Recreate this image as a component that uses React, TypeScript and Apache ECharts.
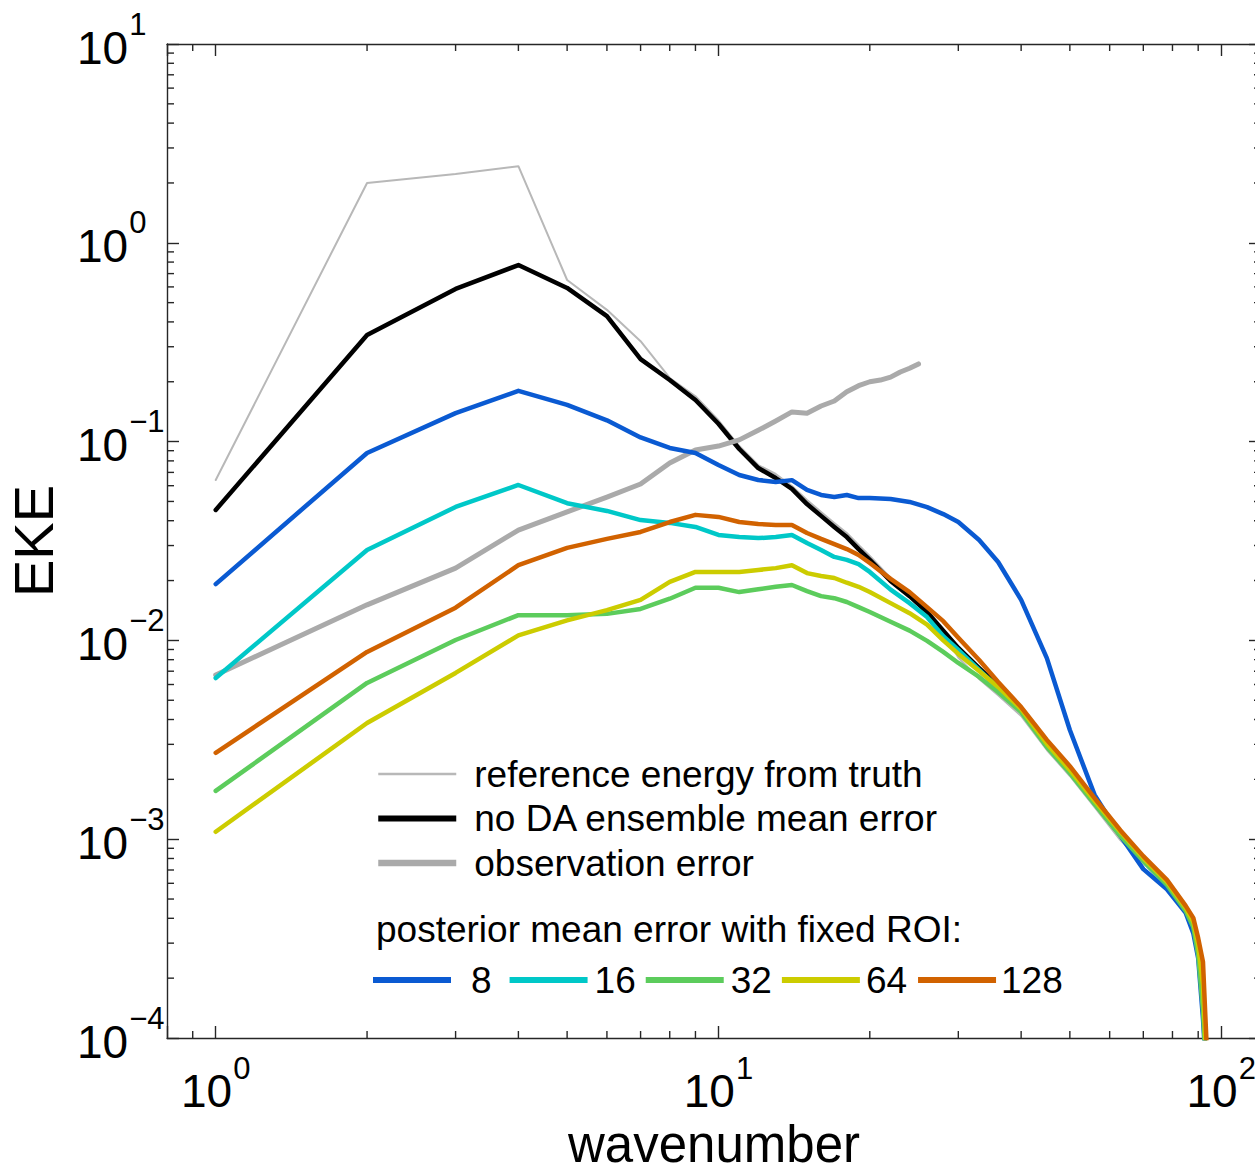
import React, { useEffect, useRef } from 'react';
import * as echarts from 'echarts';

const FONT = '"Liberation Sans", Arial, Helvetica, sans-serif';
const AXIS_COLOR = '#262626';

const X_MIN = 0.8;
const X_MAX = 120;
const Y_MIN = 1e-4;
const Y_MAX = 10;

// Wavenumbers shared by the spectra
const wavenumbers = [
  1, 2, 3, 4, 5, 6, 7, 8, 9, 10, 11, 12, 13, 14, 15, 16, 17, 18, 19, 20,
  22, 24, 26, 28, 30, 33, 36, 40, 45, 50, 56, 63, 70, 78, 85, 88, 90, 92, 94,
];
const obsWavenumbers = [
  1, 2, 3, 4, 5, 6, 7, 8, 9, 10, 11, 12, 13, 14, 15, 16, 17, 18, 19, 20, 21, 22, 23, 24, 25,
];

const referenceEnergy = [
  0.0641, 2.0, 2.22, 2.43, 0.65, 0.46, 0.32, 0.209, 0.169, 0.128,
  0.095, 0.0762, 0.0687, 0.0598, 0.0508, 0.0443, 0.039, 0.0347, 0.0302, 0.0266,
  0.0206, 0.0171, 0.0142, 0.011, 0.0082, 0.0064, 0.0053, 0.00417, 0.00281, 0.00208,
  0.00145, 0.00099, 0.000759, 0.000575, 0.000426, 0.000353, 0.000256, 0.000138, 0.00005,
];
const noDaError = [
  0.0453, 0.344, 0.586, 0.773, 0.593, 0.428, 0.26, 0.204, 0.162, 0.123,
  0.0918, 0.0736, 0.0656, 0.0578, 0.0485, 0.0423, 0.0372, 0.0331, 0.0288, 0.0254,
  0.0199, 0.0167, 0.0139, 0.0112, 0.00917, 0.00726, 0.0059, 0.00447, 0.00294, 0.00218,
  0.00152, 0.00105, 0.000785, 0.000596, 0.000441, 0.00037, 0.000277, 0.000155, 0.00005,
];
const observationError = [
  0.0067, 0.0151, 0.0231, 0.0359, 0.0443, 0.0526, 0.0612, 0.078, 0.0907, 0.095,
  0.102, 0.114, 0.127, 0.141, 0.139, 0.151, 0.16, 0.178, 0.191, 0.2,
  0.204, 0.211, 0.224, 0.234, 0.246,
];
const roi8 = [
  0.0192, 0.0877, 0.139, 0.18, 0.153, 0.128, 0.105, 0.0929, 0.0877, 0.0762,
  0.0679, 0.0641, 0.0627, 0.064, 0.0571, 0.0539, 0.0527, 0.0539, 0.052, 0.052,
  0.0514, 0.0497, 0.0468, 0.0432, 0.0394, 0.032, 0.0248, 0.016, 0.00815, 0.00354,
  0.00167, 0.00104, 0.000707, 0.00056, 0.000426, 0.000337, 0.000252, 0.000125, 0.00005,
];
const roi16 = [
  0.00647, 0.0285, 0.0469, 0.0605, 0.049, 0.0448, 0.0403, 0.039, 0.0372, 0.0339,
  0.0331, 0.0327, 0.0331, 0.0339, 0.0309, 0.0285, 0.0263, 0.0254, 0.0242, 0.0221,
  0.018, 0.0154, 0.0131, 0.0105, 0.00895, 0.0071, 0.00577, 0.00442, 0.00298, 0.0022,
  0.00154, 0.00106, 0.000794, 0.000603, 0.000446, 0.000374, 0.000277, 0.000155, 0.00005,
];
const roi32 = [
  0.00175, 0.00611, 0.01005, 0.0134, 0.0134, 0.0136, 0.0144, 0.0162, 0.0184, 0.0184,
  0.0175, 0.0181, 0.0186, 0.019, 0.0177, 0.0167, 0.0163, 0.0156, 0.0147, 0.0139,
  0.0124, 0.0112, 0.00994, 0.00875, 0.0077, 0.00655, 0.0055, 0.00436, 0.00291, 0.00215,
  0.0015, 0.00104, 0.000776, 0.000589, 0.000436, 0.000361, 0.000262, 0.000138, 0.00005,
];
const roi64 = [
  0.00109, 0.00384, 0.00686, 0.0106, 0.0126, 0.0142, 0.016, 0.0197, 0.0221, 0.0221,
  0.0221, 0.0226, 0.0231, 0.0239, 0.0218, 0.0211, 0.0206, 0.0195, 0.0186, 0.0175,
  0.0154, 0.0137, 0.012, 0.01, 0.00855, 0.00702, 0.00583, 0.00452, 0.00302, 0.00223,
  0.00156, 0.00109, 0.000803, 0.00061, 0.000451, 0.000384, 0.000294, 0.000185, 0.00005,
];
const roi128 = [
  0.00272, 0.00875, 0.0146, 0.0239, 0.0292, 0.0324, 0.0351, 0.0394, 0.0428, 0.0418,
  0.0394, 0.0385, 0.0381, 0.0381, 0.0347, 0.0324, 0.0305, 0.0288, 0.0269, 0.0245,
  0.0204, 0.0175, 0.0147, 0.0125, 0.0103, 0.00797, 0.00618, 0.00462, 0.00316, 0.00233,
  0.00161, 0.00111, 0.000822, 0.000624, 0.000462, 0.000402, 0.000318, 0.000241, 0.00007,
];

// Log-axis minor tick positions (2..9 within each decade)
const minorSteps = [2, 3, 4, 5, 6, 7, 8, 9];
const xMinorTicks = [0.9, ...minorSteps, ...minorSteps.map((m) => m * 10)];
const yDecades = [1e-4, 1e-3, 1e-2, 1e-1, 1];
const yMinorTicks = yDecades.flatMap((d) => minorSteps.map((m) => m * d));

const ROI_LABELS = ['8', '16', '32', '64', '128'];
const ROI_COLORS = ['#0a5ad2', '#00c8c8', '#5ccc5c', '#cccc00', '#d16200'];
const ROI_VALUES = [roi8, roi16, roi32, roi64, roi128];

const powerLabel = (v: number) => {
  const lg = Math.log10(v);
  const e = Math.round(lg);
  if (Math.abs(lg - e) > 1e-6) return '';
  const s = e < 0 ? '\u2212' + String(-e) : String(e);
  return `{b|10}{s|${s}}`;
};

// Superscript is lifted by bottom padding on its token (both tokens are middle-aligned)
const richFor = (basePadTop: number, supLift: number) => ({
  b: { fontSize: 46, lineHeight: 46, fontFamily: FONT, color: '#000', padding: [basePadTop, 0, 0, 0] },
  s: { fontSize: 31, lineHeight: 31, fontFamily: FONT, color: '#000', padding: [0, 0, supLift, 1] },
});

const axisLineStyle = { color: AXIS_COLOR, width: 1.4 };

const lineSeries = (name: string, xs: number[], ys: number[], color: string, width: number) => ({
  name,
  type: 'line',
  data: xs.map((x, i) => [x, ys[i]]),
  symbol: 'none',
  showSymbol: false,
  silent: true,
  clip: true,
  lineStyle: { color, width, join: 'round', cap: 'round' },
  itemStyle: { color },
  emphasis: { disabled: true },
});

const tickLine = (x1: number, y1: number, x2: number, y2: number) => ({
  type: 'line',
  shape: { x1, y1, x2, y2 },
  style: { stroke: AXIS_COLOR, lineWidth: 1.4 },
});

function buildOption() {
  const xAxisBase = {
    type: 'log',
    logBase: 10,
    min: X_MIN,
    max: X_MAX,
    axisLine: { show: true, lineStyle: axisLineStyle },
    axisTick: { show: true, inside: true, length: 12, lineStyle: axisLineStyle },
    splitLine: { show: false },
    minorTick: { show: false },
  };
  const yAxisBase = {
    type: 'log',
    logBase: 10,
    min: Y_MIN,
    max: Y_MAX,
    axisLine: { show: true, lineStyle: axisLineStyle },
    axisTick: { show: true, inside: true, length: 12, lineStyle: axisLineStyle },
    splitLine: { show: false },
    minorTick: { show: false },
  };

  const legendText = { fontSize: 37, fontFamily: FONT, color: '#000', lineHeight: 44 };
  const roiTextPad = [
    [0, 8, 0, 15],
    [0, 0, 0, 2],
    [0, 0, 0, 2],
    [0, 1, 0, 1],
    [0, 0, 0, 0],
  ];

  return {
    animation: false,
    backgroundColor: '#ffffff',
    textStyle: { fontFamily: FONT },
    grid: { left: 167, top: 44, width: 1094, height: 994, show: false, outerBoundsMode: 'none', containLabel: false },
    xAxis: [
      {
        ...xAxisBase,
        position: 'bottom',
        axisLabel: { formatter: powerLabel, margin: 30, rich: richFor(0, 46) },
        name: 'wavenumber',
        nameLocation: 'middle',
        nameGap: 85,
        nameMoveOverlap: false,
        nameTextStyle: { fontSize: 51, lineHeight: 42, fontFamily: FONT, color: '#000' },
      },
      { ...xAxisBase, position: 'top', axisLabel: { show: false } },
    ],
    yAxis: [
      {
        ...yAxisBase,
        position: 'left',
        axisLabel: { formatter: powerLabel, margin: 90, align: 'left', rich: richFor(7, 40) },
        name: 'EKE',
        nameLocation: 'middle',
        nameRotate: 90,
        nameGap: 106,
        nameMoveOverlap: false,
        nameTextStyle: { fontSize: 56, fontFamily: FONT, color: '#000' },
      },
      { ...yAxisBase, position: 'right', axisLabel: { show: false } },
    ],
    legend: [
      {
        orient: 'vertical',
        left: 375,
        top: 752,
        padding: 0,
        itemGap: 0.5,
        itemWidth: 78,
        itemHeight: 14,
        selectedMode: false,
        itemStyle: { opacity: 0 },
        textStyle: { ...legendText, padding: [0, 0, 0, 13] },
        data: [
          { name: 'reference energy from truth', lineStyle: { width: 2.5, cap: 'butt' } },
          { name: 'no DA ensemble mean error', lineStyle: { width: 6, cap: 'butt' } },
          { name: 'observation error', lineStyle: { width: 6.5, cap: 'butt' } },
        ],
      },
      {
        orient: 'horizontal',
        left: 370,
        top: 958,
        padding: 0,
        itemGap: 7,
        itemWidth: 78,
        itemHeight: 14,
        selectedMode: false,
        itemStyle: { opacity: 0 },
        textStyle: legendText,
        data: ROI_LABELS.map((name, i) => ({
          name,
          lineStyle: { width: 6, cap: 'butt' },
          textStyle: { padding: roiTextPad[i] },
        })),
      },
    ],
    graphic: [
      {
        type: 'text',
        left: 376,
        top: 911,
        silent: true,
        style: {
          text: 'posterior mean error with fixed ROI:',
          fontSize: 37,
          fontFamily: FONT,
          fill: '#000',
        },
      },
    ],
    series: [
      lineSeries('reference energy from truth', wavenumbers, referenceEnergy, '#b8b8b8', 2),
      lineSeries('no DA ensemble mean error', wavenumbers, noDaError, '#000000', 4.5),
      lineSeries('observation error', obsWavenumbers, observationError, '#aaaaaa', 5),
      ...ROI_LABELS.map((name, i) => lineSeries(name, wavenumbers, ROI_VALUES[i], ROI_COLORS[i], 4.5)),
      {
        type: 'custom',
        silent: true,
        clip: false,
        z: 5,
        encode: { x: 0, y: 1 },
        data: xMinorTicks.map((v) => [v, Y_MIN]),
        renderItem: (_params: any, api: any) => {
          const v = api.value(0);
          const b = api.coord([v, Y_MIN]);
          const t = api.coord([v, Y_MAX]);
          return {
            type: 'group',
            children: [tickLine(b[0], b[1], b[0], b[1] - 7), tickLine(t[0], t[1], t[0], t[1] + 7)],
          };
        },
      },
      {
        type: 'custom',
        silent: true,
        clip: false,
        z: 5,
        encode: { x: 0, y: 1 },
        data: yMinorTicks.map((v) => [X_MIN, v]),
        renderItem: (_params: any, api: any) => {
          const v = api.value(1);
          const l = api.coord([X_MIN, v]);
          const r = api.coord([X_MAX, v]);
          return {
            type: 'group',
            children: [tickLine(l[0], l[1], l[0] + 7, l[1]), tickLine(r[0], r[1], r[0] - 7, r[1])],
          };
        },
      },
    ],
  };
}

export default function App() {
  const ref = useRef<HTMLDivElement>(null);
  useEffect(() => {
    const el = ref.current;
    if (!el) return;
    const chart = echarts.init(el, null, { renderer: 'svg' });
    chart.setOption(buildOption() as any);
    return () => chart.dispose();
  }, []);
  return (
    <div
      ref={ref}
      style={{ position: 'absolute', left: 0, top: 0, width: 1255, height: 1174, background: '#fff' }}
    />
  );
}
